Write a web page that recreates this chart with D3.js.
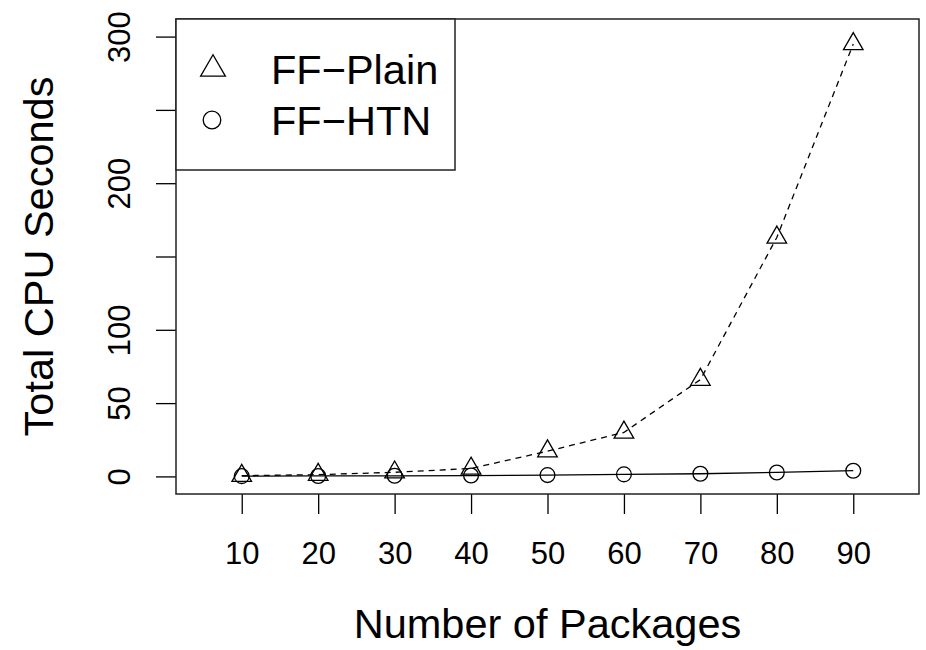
<!DOCTYPE html>
<html>
<head>
<meta charset="utf-8">
<script src="https://cdn.jsdelivr.net/npm/d3@7"></script>
<style>
  body { margin: 0; background: #fff; }
  svg text { font-family: "Liberation Sans", Arial, Helvetica, sans-serif; fill: #000; }
</style>
</head>
<body>
<div id="chart"></div>
<script>
// data
var packages = [10, 20, 30, 40, 50, 60, 70, 80, 90];
var ffPlain = [0.5, 1.2, 2.8, 5.4, 17.2, 30, 66, 163, 295];
var ffHtn = [0.2, 0.3, 0.4, 0.6, 0.9, 1.4, 1.8, 2.7, 3.9];
var yTicks = [0, 50, 100, 150, 200, 250, 300];
var yLabels = [0, 50, 100, 200, 300];   // R drops the labels that would overlap
var seriesNames = ["FF\u2212Plain", "FF\u2212HTN"];

var W = 926, H = 650;
var margin = { top: 19, right: 7, bottom: 156, left: 176 };
var width = W - margin.left - margin.right,
    height = H - margin.top - margin.bottom;

var tickFont = "31px", labFont = "41.5px";

var svg = d3.select("#chart").append("svg")
    .attr("width", W)
    .attr("height", H);

var g = svg.append("g")
    .attr("transform", "translate(" + margin.left + "," + margin.top + ")");

// scales (R pads the limits by 4%)
var x = d3.scaleLinear().domain([1.4, 98.6]).range([0, width]);
var y = d3.scaleLinear().domain([-12, 312]).range([height, 0]);

// axes
var xAxis = d3.axisBottom(x).tickValues(packages).tickSize(20).tickPadding(0);
var gX = g.append("g")
    .attr("transform", "translate(0," + height + ")")
    .call(xAxis);
gX.select(".domain").remove();
gX.selectAll("line").attr("stroke", "#000").attr("stroke-width", 1.3);
gX.selectAll("text")
    .attr("y", 69.5).attr("dy", null)
    .style("font-size", tickFont);

var yAxis = d3.axisLeft(y).tickValues(yTicks).tickSize(20)
    .tickFormat(function(d){ return yLabels.indexOf(d) >= 0 ? d : ""; });
var gY = g.append("g").call(yAxis);
gY.select(".domain").remove();
gY.selectAll("line").attr("stroke", "#000").attr("stroke-width", 1.3);
gY.selectAll("text")
    .attr("x", null).attr("dy", null)
    .attr("text-anchor", "middle")
    .attr("transform", "translate(-46,0) rotate(-90)")
    .style("font-size", tickFont);

// axis titles
svg.append("text")
    .attr("x", margin.left + width / 2)
    .attr("y", 638)
    .attr("text-anchor", "middle")
    .style("font-size", labFont)
    .text("Number of Packages");

svg.append("text")
    .attr("transform", "translate(53," + (margin.top + height / 2) + ") rotate(-90)")
    .attr("text-anchor", "middle")
    .style("font-size", labFont)
    .text("Total CPU Seconds");

// lines
var line = function(vals){
    return d3.line()
        .x(function(d, i){ return x(packages[i]); })
        .y(function(d){ return y(d); })(vals);
};

g.append("path")
    .attr("d", line(ffPlain))
    .attr("fill", "none")
    .attr("stroke", "#000")
    .attr("stroke-width", 1.3)
    .attr("stroke-dasharray", "6,5");

g.append("path")
    .attr("d", line(ffHtn))
    .attr("fill", "none")
    .attr("stroke", "#000")
    .attr("stroke-width", 1.3);

// points
var triangle = function(r){
    // circumradius r, centroid at origin (R's pch 2)
    var h = r * Math.sqrt(3) / 2;
    return "M0," + (-r) + "L" + h + "," + (r / 2) + "L" + (-h) + "," + (r / 2) + "Z";
};

g.selectAll("path.tri")
    .data(ffPlain)
    .enter().append("path")
    .attr("class", "tri")
    .attr("transform", function(d, i){ return "translate(" + x(packages[i]) + "," + y(d) + ")"; })
    .attr("d", triangle(11.3))
    .attr("fill", "none")
    .attr("stroke", "#000")
    .attr("stroke-width", 1.3);

g.selectAll("circle.pt")
    .data(ffHtn)
    .enter().append("circle")
    .attr("class", "pt")
    .attr("cx", function(d, i){ return x(packages[i]); })
    .attr("cy", function(d){ return y(d); })
    .attr("r", 7.4)
    .attr("fill", "none")
    .attr("stroke", "#000")
    .attr("stroke-width", 1.3);

// plot box
g.append("rect")
    .attr("width", width)
    .attr("height", height)
    .attr("fill", "none")
    .attr("stroke", "#222")
    .attr("stroke-width", 1.5);

// legend
var legend = svg.append("g").attr("transform", "translate(176,19)");
legend.append("rect")
    .attr("width", 279)
    .attr("height", 151)
    .attr("fill", "#fff")
    .attr("stroke", "#222")
    .attr("stroke-width", 1.5);

var items = legend.selectAll("g.item")
    .data(seriesNames)
    .enter().append("g")
    .attr("class", "item")
    .attr("transform", function(d, i){ return "translate(0," + (50 + i * 51) + ")"; });

items.append("text")
    .attr("x", 95)
    .attr("y", 14.5)
    .style("font-size", labFont)
    .text(function(d){ return d; });

items.filter(function(d, i){ return i === 0; }).append("path")
    .attr("transform", "translate(37,0)")
    .attr("d", triangle(14.3))
    .attr("fill", "none")
    .attr("stroke", "#000")
    .attr("stroke-width", 1.3);

items.filter(function(d, i){ return i === 1; }).append("circle")
    .attr("cx", 36)
    .attr("cy", 0)
    .attr("r", 8.8)
    .attr("fill", "none")
    .attr("stroke", "#000")
    .attr("stroke-width", 1.3);
</script>
</body>
</html>
